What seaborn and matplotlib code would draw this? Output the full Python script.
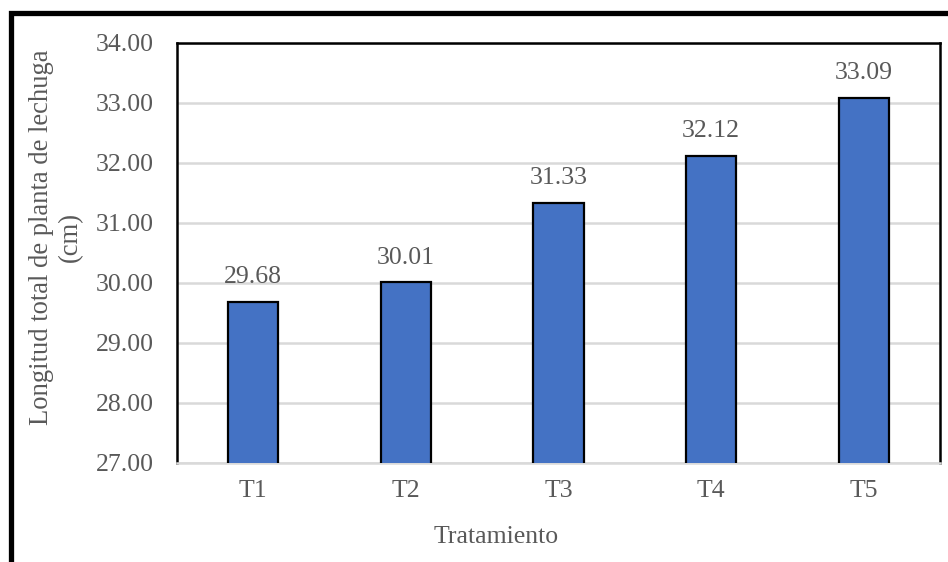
import matplotlib
matplotlib.use("Agg")
import matplotlib.pyplot as plt
import seaborn as sns
import pandas as pd
from matplotlib.patches import Rectangle

# Data
tratamientos = ["T1", "T2", "T3", "T4", "T5"]
longitud = [29.68, 30.01, 31.33, 32.12, 33.09]
y_ticks = [27.0, 28.0, 29.0, 30.0, 31.0, 32.0, 33.0, 34.0]

df = pd.DataFrame({"Tratamiento": tratamientos, "Longitud": longitud})

sns.set_theme(style="white")
plt.rcParams["font.family"] = ["Liberation Serif", "DejaVu Serif"]

W, H = 948, 562
fig = plt.figure(figsize=(W / 100, H / 100), dpi=100)
ax = fig.add_axes([177 / W, 1 - 463 / H, (940 - 177) / W, (463 - 43) / H])

text_col = "#595959"
grid_col = "#d9d9d9"

sns.barplot(data=df, x="Tratamiento", y="Longitud", color="#4472C4",
            saturation=1, width=0.33, edgecolor="black", linewidth=1.6,
            ax=ax, zorder=3)

ax.set_ylim(27, 34)
ax.set_yticks(y_ticks)
ax.set_yticklabels([f"{v:.2f}" for v in y_ticks])
ax.yaxis.grid(True, color=grid_col, linewidth=1.8, zorder=0)
ax.set_axisbelow(True)

for side in ("left", "top", "right"):
    ax.spines[side].set_color("black")
    ax.spines[side].set_linewidth(1.8)
ax.spines["bottom"].set_color(grid_col)
ax.spines["bottom"].set_linewidth(1.8)

ax.tick_params(axis="both", length=0, labelsize=18.5, colors=text_col)
ax.tick_params(axis="y", pad=17)
ax.tick_params(axis="x", pad=12)

ax.set_xlabel("")
ax.set_ylabel("")

# Value labels above each bar
for i, v in enumerate(longitud):
    ax.annotate(f"{v:.2f}", xy=(i, v), xytext=(0, 10), textcoords="offset points",
                ha="center", va="bottom", fontsize=18.5, color=text_col)

# Axis titles
fig.text(496 / W, 1 - 537 / H, "Tratamiento",
         ha="center", va="center", fontsize=18.5, color=text_col)
fig.text(56 / W, 1 - 237 / H, "Longitud total de planta de lechuga\n(cm)",
         rotation=90, ha="center", va="center", multialignment="center",
         fontsize=19.2, color=text_col, linespacing=1.2)

# Outer frame
fig.patches.append(Rectangle((10.5 / W, -0.1), 1.2, 1 - 12.5 / H + 0.1,
                             transform=fig.transFigure, fill=False,
                             edgecolor="black", linewidth=3.8))

fig.savefig("out.png", dpi=100, facecolor="white")
